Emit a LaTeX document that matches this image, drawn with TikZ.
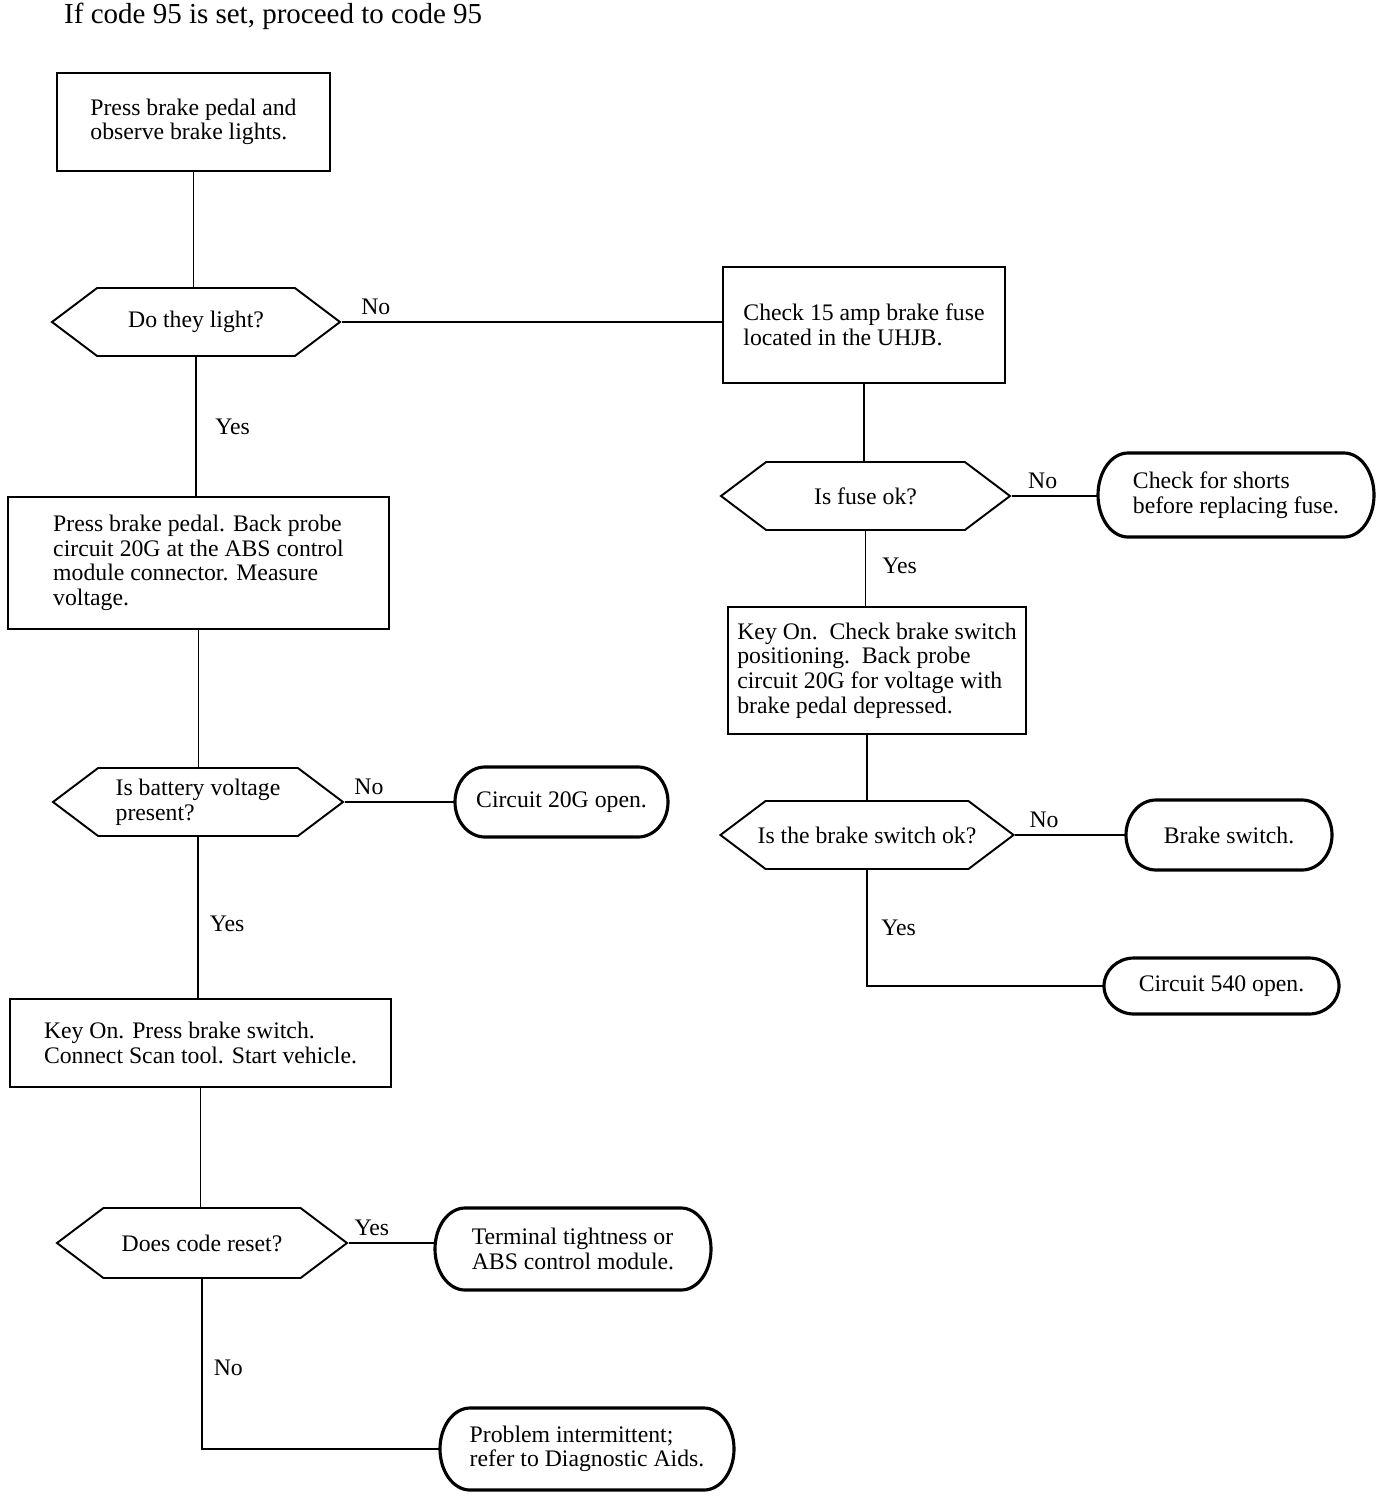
\documentclass[tikz,border=0pt]{standalone}
\usepackage{fontspec}
\setmainfont{Liberation Serif}
\usetikzlibrary{shapes.misc,shapes.symbols,calc}
\newcommand{\flowfont}{\fontsize{13.5}{14}\selectfont}
\newcommand{\headfont}{\fontsize{16.5}{18}\selectfont}

\begin{document}
\begin{tikzpicture}[font=\flowfont,
    proc/.style={draw, rectangle, align=left, line width=1.1pt},
    query/.style={draw, signal, signal to=west and east, signal pointer angle=74, align=left, line width=1.1pt},
    term/.style={rectangle, align=left, outer sep=0pt},
    wire/.style={line width=1.1pt}]
	\useasboundingbox (0cm,0cm) rectangle (27.84cm,-29.96cm);
	\node [font=\headfont, anchor=west] (n0) at (1.16cm,-0.32cm) {If code 95 is set, proceed to code 95};
	% left column
	\node [proc, minimum width=5.46cm, minimum height=1.96cm] (n1) at (3.87cm,-2.44cm) {Press brake pedal and\\observe brake lights.};
	\node [query, minimum width=5.76cm, minimum height=1.36cm] (n2) at (3.92cm,-6.44cm) {Do they light?};
	\node [proc, minimum width=7.62cm, minimum height=2.64cm] (n4) at (3.97cm,-11.26cm) {Press brake pedal. Back probe\\circuit 20G at the ABS control\\module connector. Measure\\voltage.};
	\node [query, minimum width=5.8cm, minimum height=1.36cm] (n5) at (3.96cm,-16.04cm) {Is battery voltage\\present?};
	\node [term, minimum width=4.26cm, minimum height=1.4cm] (n6) at (11.23cm,-16.04cm) {Circuit 20G open.};
	\node [proc, minimum width=7.62cm, minimum height=1.76cm] (n7) at (4.01cm,-20.86cm) {Key On. Press brake switch.\\Connect Scan tool. Start vehicle.};
	\node [query, minimum width=5.8cm, minimum height=1.4cm] (n8) at (4.04cm,-24.86cm) {Does code reset?};
	\node [term, minimum width=5.52cm, minimum height=1.64cm] (n9) at (11.46cm,-24.98cm) {Terminal tightness or\\ABS control module.};
	\node [term, minimum width=5.88cm, minimum height=1.64cm] (n10) at (11.74cm,-28.98cm) {Problem intermittent;\\refer to Diagnostic Aids.};
	% right column
	\node [proc, minimum width=5.64cm, minimum height=2.32cm] (n3) at (17.28cm,-6.5cm) {Check 15 amp brake fuse\\located in the UHJB.};
	\node [query, minimum width=5.78cm, minimum height=1.36cm] (n11) at (17.31cm,-9.92cm) {Is fuse ok?};
	\node [term, minimum width=5.52cm, minimum height=1.68cm] (n12) at (24.72cm,-9.9cm) {Check for shorts\\before replacing fuse.};
	\node [proc, minimum width=5.96cm, minimum height=2.54cm] (n13) at (17.54cm,-13.41cm) {Key On.\ \ Check brake switch\\positioning.\ \ Back probe\\circuit 20G for voltage with\\brake pedal depressed.};
	\node [query, inner xsep=-4.5pt, minimum width=5.76cm, minimum height=1.36cm] (n14) at (17.34cm,-16.7cm) {Is the brake switch ok?};
	\node [term, minimum width=4.12cm, minimum height=1.4cm] (n15) at (24.58cm,-16.7cm) {Brake switch.};
	\node [term, minimum width=4.7cm, minimum height=1.12cm] (n16) at (24.43cm,-19.72cm) {Circuit 540 open.};
	% oval outlines of the end boxes
	\foreach \t in {n6,n9,n10,n12,n15,n16}
		\draw [line width=1.8pt] let \p1=(\t.north east), \p2=(\t.south west), \n1={(\y1-\y2)/2} in
			(\x2+0.6cm,\y1) -- (\x1-0.6cm,\y1) arc [start angle=90, end angle=-90, x radius=0.6cm, y radius=\n1]
			-- (\x2+0.6cm,\y2) arc [start angle=270, end angle=90, x radius=0.6cm, y radius=\n1] -- cycle;
	% connectors
	\draw [wire] (n1.south) -- (n1.south |- n2.north);
	\draw [wire] (n2.east) -- node [pos=0.09, above] {No} (n2.east -| n3.west);
	\draw [wire] (n2.south) -- node [pos=0.5, right=0.25cm] {Yes} (n2.south |- n4.north);
	\draw [wire] (n4.south) -- (n4.south |- n5.north);
	\draw [wire] (n5.east) -- node [pos=0.22, above] {No} (n6.west);
	\draw [wire] (n5.south) -- node [pos=0.54, right=0.1cm] {Yes} (n5.south |- n7.north);
	\draw [wire] (n7.south) -- (n7.south |- n8.north);
	\draw [wire] (n8.east) -- node [pos=0.27, above] {Yes} (n8.east -| n9.west);
	\draw [wire] (n8.south) |- node [pos=0.26, right=0.1cm] {No} (n10.west);
	\draw [wire] (n3.south) -- (n3.south |- n11.north);
	\draw [wire] (n11.east) -- node [pos=0.36, above] {No} (n11.east -| n12.west);
	\draw [wire] (n11.south) -- node [pos=0.47, right=0.2cm] {Yes} (n11.south |- n13.north);
	\draw [wire] (n14.north |- n13.south) -- (n14.north);
	\draw [wire] (n14.east) -- node [pos=0.26, above] {No} (n15.west);
	\draw [wire] (n14.south) |- node [pos=0.25, right=0.15cm] {Yes} (n16.west);
\end{tikzpicture}
\end{document}
